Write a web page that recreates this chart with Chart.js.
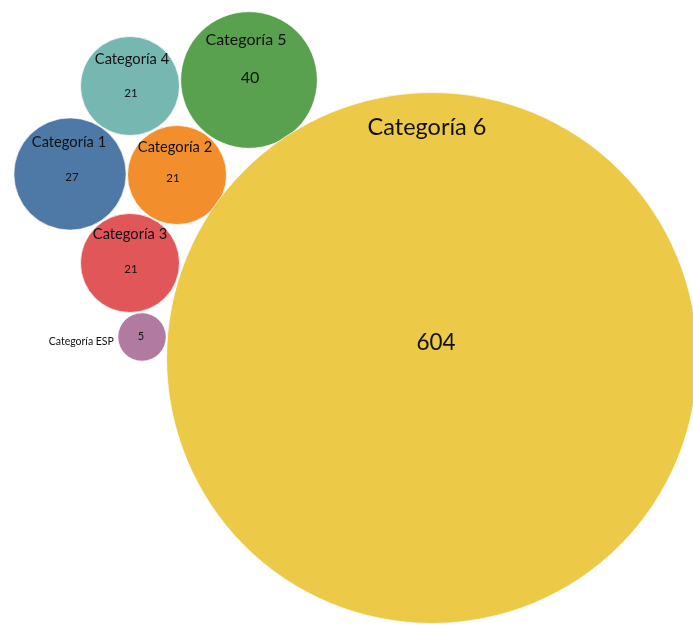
<!DOCTYPE html>
<html lang="es">
<head>
    <meta charset="UTF-8">
    <title>Categorías</title>
    <script src="https://cdn.jsdelivr.net/npm/chart.js"></script>
    <style>
        body {
            margin: 0;
            background: #ffffff;
        }
        .wrap {
            width: 693px;
            height: 625px;
        }
    </style>
</head>
<body>

    <div class="wrap">
        <canvas id="chart1" width="693" height="625"></canvas>
    </div>

    <script>
        // data
        const categories = ['Categoría 1', 'Categoría 2', 'Categoría 3', 'Categoría 4', 'Categoría 5', 'Categoría 6', 'Categoría ESP'];
        const values = [27, 21, 21, 21, 40, 604, 5];
        // bubble layout positions (packed)
        const posX = [70, 177, 130, 130, 249, 432, 142];
        const posY = [174, 175, 263, 86, 80, 358, 337];

        // styles
        const colors = ['#4E79A7', '#F28E2B', '#E15759', '#76B7B2', '#59A14F', '#EDC948', '#B07AA1'];
        const radiusScale = 10.8; // px per sqrt(value)
        // [name dx, name dy, name font, value dx, value dy, value font]
        const labelStyle = [
            [-1, -32, 14.7, 2, 3, 11.5],
            [-2, -28, 14.7, -4, 3, 11.5],
            [0, -29, 14.7, 1, 6, 11.5],
            [2, -27, 14.7, 1, 7, 11.5],
            [-3, -40, 16, 1, -2, 16],
            [-5, -231, 23.5, 4, -15, 22.5],
            [0, 0, 10.5, -1, -1, 11]
        ];

        const labelPlugin = {
            id: 'bubbleLabels',
            afterDatasetsDraw(chart) {
                const ctx = chart.ctx;
                const meta = chart.getDatasetMeta(0);
                ctx.save();
                ctx.fillStyle = '#111111';
                ctx.textAlign = 'center';
                ctx.textBaseline = 'middle';
                meta.data.forEach((pt, i) => {
                    const s = labelStyle[i];
                    const r = pt.options.radius;
                    ctx.font = s[2] + 'px Lato, "Open Sans", sans-serif';
                    if (i === categories.length - 1) {
                        // small bubble: name goes outside, to the left
                        ctx.textAlign = 'right';
                        ctx.fillText(categories[i], pt.x - r - 4, pt.y + 5);
                        ctx.textAlign = 'center';
                    } else {
                        ctx.fillText(categories[i], pt.x + s[0], pt.y + s[1]);
                    }
                    ctx.font = s[5] + 'px Lato, "Open Sans", sans-serif';
                    ctx.fillText(String(values[i]), pt.x + s[3], pt.y + s[4]);
                });
                ctx.restore();
            }
        };

        const ctx = document.getElementById('chart1').getContext('2d');
        const chart1 = new Chart(ctx, {
            type: 'bubble',
            data: {
                datasets: [{
                    label: 'Categorías',
                    data: values.map((v, i) => ({ x: posX[i], y: posY[i], r: radiusScale * Math.sqrt(v) })),
                    backgroundColor: colors,
                    borderColor: 'rgba(255,255,255,0.7)',
                    borderWidth: 1,
                    clip: false
                }]
            },
            options: {
                responsive: false,
                animation: false,
                layout: { padding: 0, autoPadding: false },
                scales: {
                    x: { type: 'linear', min: 0, max: 693, display: false },
                    y: { type: 'linear', min: 0, max: 625, reverse: true, display: false }
                },
                plugins: {
                    legend: { display: false },
                    tooltip: { enabled: false }
                }
            },
            plugins: [labelPlugin]
        });
    </script>

</body>
</html>
